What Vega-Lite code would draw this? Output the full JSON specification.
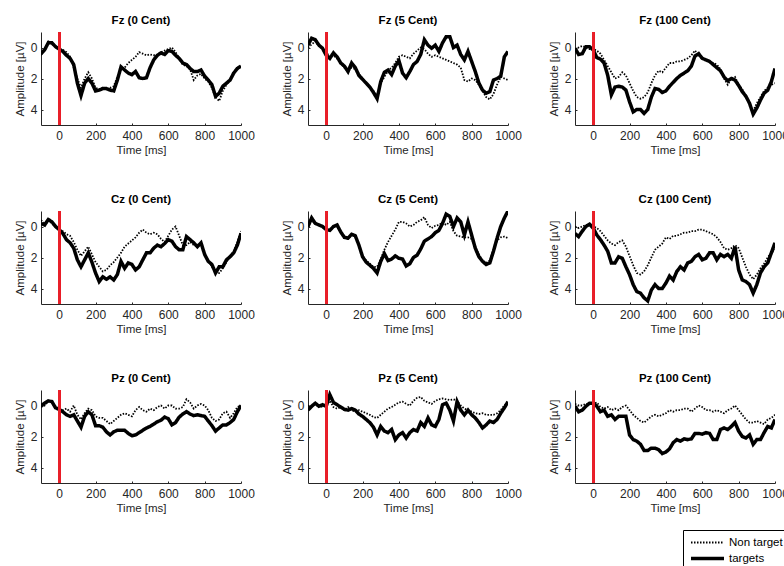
{
"$schema": "https://vega.github.io/schema/vega-lite/v6.json",
"padding": {"left": 14, "top": 14, "right": 0, "bottom": 0},
"bounds": "flush",
"columns": 3,
"spacing": {"row": 86, "column": 67},
"data": {"values": [
{"p":"Fz (0 Cent)","t":-100,"Non target":0.5,"targets":0.4},{"p":"Fz (0 Cent)","t":-80,"Non target":0.1,"targets":0.15},{"p":"Fz (0 Cent)","t":-60,"Non target":-0.4,"targets":-0.3},{"p":"Fz (0 Cent)","t":-40,"Non target":-0.3,"targets":-0.3},{"p":"Fz (0 Cent)","t":-20,"Non target":-0.1,"targets":-0.05},{"p":"Fz (0 Cent)","t":0,"Non target":0.1,"targets":0.1},{"p":"Fz (0 Cent)","t":20,"Non target":0.15,"targets":0.25},{"p":"Fz (0 Cent)","t":40,"Non target":0.3,"targets":0.5},{"p":"Fz (0 Cent)","t":60,"Non target":0.6,"targets":0.7},{"p":"Fz (0 Cent)","t":80,"Non target":1.3,"targets":1.1},{"p":"Fz (0 Cent)","t":100,"Non target":2.0,"targets":2.3},{"p":"Fz (0 Cent)","t":120,"Non target":2.6,"targets":3.1},{"p":"Fz (0 Cent)","t":140,"Non target":2.0,"targets":2.3},{"p":"Fz (0 Cent)","t":160,"Non target":1.6,"targets":2.0},{"p":"Fz (0 Cent)","t":180,"Non target":2.0,"targets":2.3},{"p":"Fz (0 Cent)","t":200,"Non target":2.6,"targets":2.8},{"p":"Fz (0 Cent)","t":220,"Non target":2.7,"targets":2.75},{"p":"Fz (0 Cent)","t":240,"Non target":2.6,"targets":2.65},{"p":"Fz (0 Cent)","t":260,"Non target":2.7,"targets":2.65},{"p":"Fz (0 Cent)","t":280,"Non target":2.6,"targets":2.75},{"p":"Fz (0 Cent)","t":300,"Non target":2.5,"targets":2.8},{"p":"Fz (0 Cent)","t":320,"Non target":1.9,"targets":2.1},{"p":"Fz (0 Cent)","t":340,"Non target":1.4,"targets":1.25},{"p":"Fz (0 Cent)","t":360,"Non target":1.3,"targets":1.45},{"p":"Fz (0 Cent)","t":380,"Non target":1.0,"targets":1.65},{"p":"Fz (0 Cent)","t":400,"Non target":0.8,"targets":1.75},{"p":"Fz (0 Cent)","t":420,"Non target":0.6,"targets":1.55},{"p":"Fz (0 Cent)","t":440,"Non target":0.3,"targets":1.95},{"p":"Fz (0 Cent)","t":460,"Non target":0.4,"targets":2.0},{"p":"Fz (0 Cent)","t":480,"Non target":0.5,"targets":1.95},{"p":"Fz (0 Cent)","t":500,"Non target":0.45,"targets":1.3},{"p":"Fz (0 Cent)","t":520,"Non target":0.5,"targets":0.8},{"p":"Fz (0 Cent)","t":540,"Non target":0.5,"targets":0.5},{"p":"Fz (0 Cent)","t":560,"Non target":0.3,"targets":0.35},{"p":"Fz (0 Cent)","t":580,"Non target":0.2,"targets":0.45},{"p":"Fz (0 Cent)","t":600,"Non target":0.1,"targets":0.2},{"p":"Fz (0 Cent)","t":620,"Non target":0.0,"targets":0.25},{"p":"Fz (0 Cent)","t":640,"Non target":0.3,"targets":0.5},{"p":"Fz (0 Cent)","t":660,"Non target":0.7,"targets":0.7},{"p":"Fz (0 Cent)","t":680,"Non target":1.1,"targets":1.0},{"p":"Fz (0 Cent)","t":700,"Non target":1.2,"targets":1.1},{"p":"Fz (0 Cent)","t":720,"Non target":1.4,"targets":1.35},{"p":"Fz (0 Cent)","t":740,"Non target":2.1,"targets":1.55},{"p":"Fz (0 Cent)","t":760,"Non target":1.8,"targets":1.55},{"p":"Fz (0 Cent)","t":780,"Non target":1.7,"targets":1.45},{"p":"Fz (0 Cent)","t":800,"Non target":2.0,"targets":1.85},{"p":"Fz (0 Cent)","t":820,"Non target":2.2,"targets":2.1},{"p":"Fz (0 Cent)","t":840,"Non target":2.6,"targets":2.4},{"p":"Fz (0 Cent)","t":860,"Non target":3.2,"targets":3.15},{"p":"Fz (0 Cent)","t":880,"Non target":3.45,"targets":2.95},{"p":"Fz (0 Cent)","t":900,"Non target":2.8,"targets":2.5},{"p":"Fz (0 Cent)","t":920,"Non target":2.4,"targets":2.3},{"p":"Fz (0 Cent)","t":940,"Non target":2.1,"targets":2.1},{"p":"Fz (0 Cent)","t":960,"Non target":1.6,"targets":1.65},{"p":"Fz (0 Cent)","t":980,"Non target":1.4,"targets":1.35},{"p":"Fz (0 Cent)","t":1000,"Non target":1.2,"targets":1.2},
{"p":"Fz (5 Cent)","t":-100,"Non target":0.0,"targets":-0.15},{"p":"Fz (5 Cent)","t":-80,"Non target":-0.2,"targets":-0.6},{"p":"Fz (5 Cent)","t":-60,"Non target":-0.4,"targets":-0.5},{"p":"Fz (5 Cent)","t":-40,"Non target":-0.1,"targets":-0.15},{"p":"Fz (5 Cent)","t":-20,"Non target":0.1,"targets":0.05},{"p":"Fz (5 Cent)","t":0,"Non target":0.3,"targets":0.5},{"p":"Fz (5 Cent)","t":20,"Non target":0.6,"targets":0.7},{"p":"Fz (5 Cent)","t":40,"Non target":0.5,"targets":0.35},{"p":"Fz (5 Cent)","t":60,"Non target":0.7,"targets":0.6},{"p":"Fz (5 Cent)","t":80,"Non target":1.0,"targets":1.0},{"p":"Fz (5 Cent)","t":100,"Non target":1.3,"targets":1.2},{"p":"Fz (5 Cent)","t":120,"Non target":1.5,"targets":1.55},{"p":"Fz (5 Cent)","t":140,"Non target":1.3,"targets":1.0},{"p":"Fz (5 Cent)","t":160,"Non target":1.4,"targets":1.3},{"p":"Fz (5 Cent)","t":180,"Non target":1.7,"targets":1.8},{"p":"Fz (5 Cent)","t":200,"Non target":2.0,"targets":2.05},{"p":"Fz (5 Cent)","t":220,"Non target":2.3,"targets":2.3},{"p":"Fz (5 Cent)","t":240,"Non target":2.6,"targets":2.55},{"p":"Fz (5 Cent)","t":260,"Non target":2.8,"targets":2.9},{"p":"Fz (5 Cent)","t":280,"Non target":3.1,"targets":3.3},{"p":"Fz (5 Cent)","t":300,"Non target":2.3,"targets":2.2},{"p":"Fz (5 Cent)","t":320,"Non target":1.9,"targets":1.6},{"p":"Fz (5 Cent)","t":340,"Non target":1.5,"targets":1.45},{"p":"Fz (5 Cent)","t":360,"Non target":1.3,"targets":1.75},{"p":"Fz (5 Cent)","t":380,"Non target":1.0,"targets":1.2},{"p":"Fz (5 Cent)","t":400,"Non target":0.6,"targets":0.85},{"p":"Fz (5 Cent)","t":420,"Non target":0.5,"targets":1.65},{"p":"Fz (5 Cent)","t":440,"Non target":0.6,"targets":1.95},{"p":"Fz (5 Cent)","t":460,"Non target":0.7,"targets":1.55},{"p":"Fz (5 Cent)","t":480,"Non target":0.4,"targets":1.1},{"p":"Fz (5 Cent)","t":500,"Non target":0.2,"targets":0.9},{"p":"Fz (5 Cent)","t":520,"Non target":0.0,"targets":0.45},{"p":"Fz (5 Cent)","t":540,"Non target":0.1,"targets":-0.5},{"p":"Fz (5 Cent)","t":560,"Non target":0.4,"targets":-0.15},{"p":"Fz (5 Cent)","t":580,"Non target":0.6,"targets":0.05},{"p":"Fz (5 Cent)","t":600,"Non target":0.5,"targets":-0.15},{"p":"Fz (5 Cent)","t":620,"Non target":0.6,"targets":0.25},{"p":"Fz (5 Cent)","t":640,"Non target":0.7,"targets":-0.3},{"p":"Fz (5 Cent)","t":660,"Non target":0.8,"targets":-0.7},{"p":"Fz (5 Cent)","t":680,"Non target":0.9,"targets":-0.7},{"p":"Fz (5 Cent)","t":700,"Non target":1.0,"targets":0.0},{"p":"Fz (5 Cent)","t":720,"Non target":1.1,"targets":-0.15},{"p":"Fz (5 Cent)","t":740,"Non target":1.3,"targets":0.45},{"p":"Fz (5 Cent)","t":760,"Non target":2.1,"targets":0.8},{"p":"Fz (5 Cent)","t":780,"Non target":2.2,"targets":0.25},{"p":"Fz (5 Cent)","t":800,"Non target":2.0,"targets":0.9},{"p":"Fz (5 Cent)","t":820,"Non target":2.1,"targets":1.55},{"p":"Fz (5 Cent)","t":840,"Non target":2.4,"targets":2.3},{"p":"Fz (5 Cent)","t":860,"Non target":2.8,"targets":2.75},{"p":"Fz (5 Cent)","t":880,"Non target":3.2,"targets":2.95},{"p":"Fz (5 Cent)","t":900,"Non target":3.35,"targets":2.85},{"p":"Fz (5 Cent)","t":920,"Non target":3.0,"targets":2.1},{"p":"Fz (5 Cent)","t":940,"Non target":2.4,"targets":2.0},{"p":"Fz (5 Cent)","t":960,"Non target":1.9,"targets":1.85},{"p":"Fz (5 Cent)","t":980,"Non target":2.0,"targets":0.6},{"p":"Fz (5 Cent)","t":1000,"Non target":2.1,"targets":0.25},
{"p":"Fz (100 Cent)","t":-100,"Non target":0.1,"targets":0.05},{"p":"Fz (100 Cent)","t":-80,"Non target":0.0,"targets":0.45},{"p":"Fz (100 Cent)","t":-60,"Non target":-0.1,"targets":0.4},{"p":"Fz (100 Cent)","t":-40,"Non target":0.0,"targets":-0.05},{"p":"Fz (100 Cent)","t":-20,"Non target":0.1,"targets":-0.05},{"p":"Fz (100 Cent)","t":0,"Non target":0.1,"targets":0.15},{"p":"Fz (100 Cent)","t":20,"Non target":0.2,"targets":0.65},{"p":"Fz (100 Cent)","t":40,"Non target":0.4,"targets":0.75},{"p":"Fz (100 Cent)","t":60,"Non target":0.8,"targets":1.0},{"p":"Fz (100 Cent)","t":80,"Non target":1.2,"targets":1.8},{"p":"Fz (100 Cent)","t":100,"Non target":1.6,"targets":3.05},{"p":"Fz (100 Cent)","t":120,"Non target":2.0,"targets":2.55},{"p":"Fz (100 Cent)","t":140,"Non target":1.9,"targets":2.5},{"p":"Fz (100 Cent)","t":160,"Non target":1.6,"targets":2.55},{"p":"Fz (100 Cent)","t":180,"Non target":1.8,"targets":2.75},{"p":"Fz (100 Cent)","t":200,"Non target":2.3,"targets":3.5},{"p":"Fz (100 Cent)","t":220,"Non target":2.8,"targets":4.15},{"p":"Fz (100 Cent)","t":240,"Non target":3.2,"targets":4.0},{"p":"Fz (100 Cent)","t":260,"Non target":3.3,"targets":4.0},{"p":"Fz (100 Cent)","t":280,"Non target":3.2,"targets":4.25},{"p":"Fz (100 Cent)","t":300,"Non target":2.9,"targets":4.0},{"p":"Fz (100 Cent)","t":320,"Non target":2.3,"targets":3.2},{"p":"Fz (100 Cent)","t":340,"Non target":1.8,"targets":2.65},{"p":"Fz (100 Cent)","t":360,"Non target":1.5,"targets":2.7},{"p":"Fz (100 Cent)","t":380,"Non target":1.6,"targets":2.9},{"p":"Fz (100 Cent)","t":400,"Non target":1.3,"targets":2.8},{"p":"Fz (100 Cent)","t":420,"Non target":1.0,"targets":2.5},{"p":"Fz (100 Cent)","t":440,"Non target":1.0,"targets":2.25},{"p":"Fz (100 Cent)","t":460,"Non target":0.9,"targets":2.0},{"p":"Fz (100 Cent)","t":480,"Non target":0.9,"targets":1.8},{"p":"Fz (100 Cent)","t":500,"Non target":0.8,"targets":1.65},{"p":"Fz (100 Cent)","t":520,"Non target":0.7,"targets":1.5},{"p":"Fz (100 Cent)","t":540,"Non target":0.5,"targets":1.2},{"p":"Fz (100 Cent)","t":560,"Non target":0.2,"targets":0.55},{"p":"Fz (100 Cent)","t":580,"Non target":0.5,"targets":0.4},{"p":"Fz (100 Cent)","t":600,"Non target":0.7,"targets":0.7},{"p":"Fz (100 Cent)","t":620,"Non target":0.8,"targets":0.8},{"p":"Fz (100 Cent)","t":640,"Non target":0.9,"targets":0.9},{"p":"Fz (100 Cent)","t":660,"Non target":1.0,"targets":1.1},{"p":"Fz (100 Cent)","t":680,"Non target":1.1,"targets":1.3},{"p":"Fz (100 Cent)","t":700,"Non target":1.4,"targets":1.5},{"p":"Fz (100 Cent)","t":720,"Non target":2.0,"targets":1.9},{"p":"Fz (100 Cent)","t":740,"Non target":2.4,"targets":2.15},{"p":"Fz (100 Cent)","t":760,"Non target":2.0,"targets":2.0},{"p":"Fz (100 Cent)","t":780,"Non target":1.9,"targets":2.1},{"p":"Fz (100 Cent)","t":800,"Non target":2.4,"targets":2.45},{"p":"Fz (100 Cent)","t":820,"Non target":2.7,"targets":2.85},{"p":"Fz (100 Cent)","t":840,"Non target":3.1,"targets":3.15},{"p":"Fz (100 Cent)","t":860,"Non target":3.6,"targets":3.6},{"p":"Fz (100 Cent)","t":880,"Non target":4.1,"targets":4.3},{"p":"Fz (100 Cent)","t":900,"Non target":3.6,"targets":3.9},{"p":"Fz (100 Cent)","t":920,"Non target":3.2,"targets":3.4},{"p":"Fz (100 Cent)","t":940,"Non target":2.8,"targets":2.95},{"p":"Fz (100 Cent)","t":960,"Non target":2.6,"targets":2.75},{"p":"Fz (100 Cent)","t":980,"Non target":2.4,"targets":2.2},{"p":"Fz (100 Cent)","t":1000,"Non target":2.3,"targets":1.35},
{"p":"Cz (0 Cent)","t":-100,"Non target":-0.4,"targets":-0.2},{"p":"Cz (0 Cent)","t":-80,"Non target":-0.2,"targets":-0.1},{"p":"Cz (0 Cent)","t":-60,"Non target":-0.4,"targets":-0.45},{"p":"Cz (0 Cent)","t":-40,"Non target":-0.2,"targets":-0.3},{"p":"Cz (0 Cent)","t":-20,"Non target":0.0,"targets":0.0},{"p":"Cz (0 Cent)","t":0,"Non target":0.2,"targets":0.2},{"p":"Cz (0 Cent)","t":20,"Non target":0.3,"targets":0.45},{"p":"Cz (0 Cent)","t":40,"Non target":0.5,"targets":0.85},{"p":"Cz (0 Cent)","t":60,"Non target":0.6,"targets":1.05},{"p":"Cz (0 Cent)","t":80,"Non target":1.0,"targets":1.4},{"p":"Cz (0 Cent)","t":100,"Non target":1.5,"targets":2.15},{"p":"Cz (0 Cent)","t":120,"Non target":1.9,"targets":2.6},{"p":"Cz (0 Cent)","t":140,"Non target":1.6,"targets":2.15},{"p":"Cz (0 Cent)","t":160,"Non target":1.3,"targets":1.7},{"p":"Cz (0 Cent)","t":180,"Non target":1.8,"targets":2.3},{"p":"Cz (0 Cent)","t":200,"Non target":2.3,"targets":3.0},{"p":"Cz (0 Cent)","t":220,"Non target":2.6,"targets":3.55},{"p":"Cz (0 Cent)","t":240,"Non target":2.9,"targets":3.25},{"p":"Cz (0 Cent)","t":260,"Non target":2.8,"targets":3.4},{"p":"Cz (0 Cent)","t":280,"Non target":2.5,"targets":3.25},{"p":"Cz (0 Cent)","t":300,"Non target":2.3,"targets":3.45},{"p":"Cz (0 Cent)","t":320,"Non target":2.0,"targets":3.1},{"p":"Cz (0 Cent)","t":340,"Non target":1.7,"targets":2.25},{"p":"Cz (0 Cent)","t":360,"Non target":1.3,"targets":2.7},{"p":"Cz (0 Cent)","t":380,"Non target":1.1,"targets":2.35},{"p":"Cz (0 Cent)","t":400,"Non target":0.9,"targets":2.45},{"p":"Cz (0 Cent)","t":420,"Non target":0.7,"targets":2.8},{"p":"Cz (0 Cent)","t":440,"Non target":0.4,"targets":2.6},{"p":"Cz (0 Cent)","t":460,"Non target":0.2,"targets":2.15},{"p":"Cz (0 Cent)","t":480,"Non target":0.4,"targets":1.7},{"p":"Cz (0 Cent)","t":500,"Non target":0.5,"targets":1.7},{"p":"Cz (0 Cent)","t":520,"Non target":0.4,"targets":1.4},{"p":"Cz (0 Cent)","t":540,"Non target":0.5,"targets":1.2},{"p":"Cz (0 Cent)","t":560,"Non target":0.8,"targets":1.3},{"p":"Cz (0 Cent)","t":580,"Non target":1.0,"targets":1.1},{"p":"Cz (0 Cent)","t":600,"Non target":0.6,"targets":0.85},{"p":"Cz (0 Cent)","t":620,"Non target":0.2,"targets":0.95},{"p":"Cz (0 Cent)","t":640,"Non target":0.0,"targets":1.3},{"p":"Cz (0 Cent)","t":660,"Non target":0.6,"targets":1.5},{"p":"Cz (0 Cent)","t":680,"Non target":1.2,"targets":1.5},{"p":"Cz (0 Cent)","t":700,"Non target":1.2,"targets":0.65},{"p":"Cz (0 Cent)","t":720,"Non target":1.0,"targets":0.85},{"p":"Cz (0 Cent)","t":740,"Non target":1.2,"targets":1.05},{"p":"Cz (0 Cent)","t":760,"Non target":1.3,"targets":1.3},{"p":"Cz (0 Cent)","t":780,"Non target":1.1,"targets":1.05},{"p":"Cz (0 Cent)","t":800,"Non target":1.8,"targets":1.8},{"p":"Cz (0 Cent)","t":820,"Non target":2.2,"targets":2.25},{"p":"Cz (0 Cent)","t":840,"Non target":2.6,"targets":2.45},{"p":"Cz (0 Cent)","t":860,"Non target":2.9,"targets":3.0},{"p":"Cz (0 Cent)","t":880,"Non target":3.0,"targets":2.6},{"p":"Cz (0 Cent)","t":900,"Non target":2.7,"targets":2.6},{"p":"Cz (0 Cent)","t":920,"Non target":2.3,"targets":2.15},{"p":"Cz (0 Cent)","t":940,"Non target":1.9,"targets":1.95},{"p":"Cz (0 Cent)","t":960,"Non target":1.6,"targets":1.7},{"p":"Cz (0 Cent)","t":980,"Non target":1.0,"targets":1.2},{"p":"Cz (0 Cent)","t":1000,"Non target":0.3,"targets":0.45},
{"p":"Cz (5 Cent)","t":-100,"Non target":0.0,"targets":0.0},{"p":"Cz (5 Cent)","t":-80,"Non target":-0.4,"targets":-0.55},{"p":"Cz (5 Cent)","t":-60,"Non target":-0.2,"targets":-0.2},{"p":"Cz (5 Cent)","t":-40,"Non target":-0.1,"targets":-0.1},{"p":"Cz (5 Cent)","t":-20,"Non target":0.0,"targets":0.0},{"p":"Cz (5 Cent)","t":0,"Non target":0.2,"targets":0.2},{"p":"Cz (5 Cent)","t":20,"Non target":0.25,"targets":0.25},{"p":"Cz (5 Cent)","t":40,"Non target":0.05,"targets":0.0},{"p":"Cz (5 Cent)","t":60,"Non target":-0.05,"targets":-0.1},{"p":"Cz (5 Cent)","t":80,"Non target":0.4,"targets":0.35},{"p":"Cz (5 Cent)","t":100,"Non target":0.75,"targets":0.7},{"p":"Cz (5 Cent)","t":120,"Non target":0.8,"targets":0.75},{"p":"Cz (5 Cent)","t":140,"Non target":0.55,"targets":0.5},{"p":"Cz (5 Cent)","t":160,"Non target":0.6,"targets":0.6},{"p":"Cz (5 Cent)","t":180,"Non target":1.2,"targets":1.2},{"p":"Cz (5 Cent)","t":200,"Non target":1.9,"targets":1.95},{"p":"Cz (5 Cent)","t":220,"Non target":2.2,"targets":2.3},{"p":"Cz (5 Cent)","t":240,"Non target":2.4,"targets":2.5},{"p":"Cz (5 Cent)","t":260,"Non target":2.6,"targets":2.7},{"p":"Cz (5 Cent)","t":280,"Non target":2.6,"targets":3.0},{"p":"Cz (5 Cent)","t":300,"Non target":2.1,"targets":2.25},{"p":"Cz (5 Cent)","t":320,"Non target":1.5,"targets":1.75},{"p":"Cz (5 Cent)","t":340,"Non target":1.0,"targets":2.2},{"p":"Cz (5 Cent)","t":360,"Non target":0.6,"targets":2.1},{"p":"Cz (5 Cent)","t":380,"Non target":0.2,"targets":1.9},{"p":"Cz (5 Cent)","t":400,"Non target":-0.3,"targets":2.05},{"p":"Cz (5 Cent)","t":420,"Non target":-0.3,"targets":2.1},{"p":"Cz (5 Cent)","t":440,"Non target":-0.2,"targets":2.55},{"p":"Cz (5 Cent)","t":460,"Non target":0.0,"targets":2.4},{"p":"Cz (5 Cent)","t":480,"Non target":-0.1,"targets":2.0},{"p":"Cz (5 Cent)","t":500,"Non target":-0.3,"targets":1.85},{"p":"Cz (5 Cent)","t":520,"Non target":-0.4,"targets":1.45},{"p":"Cz (5 Cent)","t":540,"Non target":-0.6,"targets":0.95},{"p":"Cz (5 Cent)","t":560,"Non target":-0.1,"targets":0.8},{"p":"Cz (5 Cent)","t":580,"Non target":0.1,"targets":0.65},{"p":"Cz (5 Cent)","t":600,"Non target":-0.05,"targets":0.4},{"p":"Cz (5 Cent)","t":620,"Non target":-0.1,"targets":0.25},{"p":"Cz (5 Cent)","t":640,"Non target":-0.25,"targets":-0.2},{"p":"Cz (5 Cent)","t":660,"Non target":-0.1,"targets":-0.8},{"p":"Cz (5 Cent)","t":680,"Non target":-0.3,"targets":-0.65},{"p":"Cz (5 Cent)","t":700,"Non target":0.3,"targets":0.0},{"p":"Cz (5 Cent)","t":720,"Non target":0.6,"targets":-0.55},{"p":"Cz (5 Cent)","t":740,"Non target":0.65,"targets":-0.3},{"p":"Cz (5 Cent)","t":760,"Non target":0.7,"targets":0.55},{"p":"Cz (5 Cent)","t":780,"Non target":0.7,"targets":-0.3},{"p":"Cz (5 Cent)","t":800,"Non target":0.8,"targets":0.55},{"p":"Cz (5 Cent)","t":820,"Non target":1.3,"targets":1.4},{"p":"Cz (5 Cent)","t":840,"Non target":1.8,"targets":1.95},{"p":"Cz (5 Cent)","t":860,"Non target":2.2,"targets":2.25},{"p":"Cz (5 Cent)","t":880,"Non target":2.35,"targets":2.45},{"p":"Cz (5 Cent)","t":900,"Non target":2.2,"targets":2.35},{"p":"Cz (5 Cent)","t":920,"Non target":1.5,"targets":1.6},{"p":"Cz (5 Cent)","t":940,"Non target":0.9,"targets":0.75},{"p":"Cz (5 Cent)","t":960,"Non target":0.7,"targets":0.0},{"p":"Cz (5 Cent)","t":980,"Non target":0.65,"targets":-0.55},{"p":"Cz (5 Cent)","t":1000,"Non target":0.75,"targets":-1.0},
{"p":"Cz (100 Cent)","t":-100,"Non target":0.0,"targets":0.45},{"p":"Cz (100 Cent)","t":-80,"Non target":0.1,"targets":0.65},{"p":"Cz (100 Cent)","t":-60,"Non target":0.0,"targets":0.3},{"p":"Cz (100 Cent)","t":-40,"Non target":-0.1,"targets":0.0},{"p":"Cz (100 Cent)","t":-20,"Non target":-0.1,"targets":-0.15},{"p":"Cz (100 Cent)","t":0,"Non target":0.0,"targets":0.1},{"p":"Cz (100 Cent)","t":20,"Non target":0.1,"targets":0.55},{"p":"Cz (100 Cent)","t":40,"Non target":0.3,"targets":0.85},{"p":"Cz (100 Cent)","t":60,"Non target":0.6,"targets":1.2},{"p":"Cz (100 Cent)","t":80,"Non target":0.9,"targets":1.6},{"p":"Cz (100 Cent)","t":100,"Non target":1.1,"targets":2.35},{"p":"Cz (100 Cent)","t":120,"Non target":1.2,"targets":2.35},{"p":"Cz (100 Cent)","t":140,"Non target":1.0,"targets":1.95},{"p":"Cz (100 Cent)","t":160,"Non target":0.9,"targets":2.05},{"p":"Cz (100 Cent)","t":180,"Non target":1.3,"targets":2.6},{"p":"Cz (100 Cent)","t":200,"Non target":1.9,"targets":3.1},{"p":"Cz (100 Cent)","t":220,"Non target":2.5,"targets":3.75},{"p":"Cz (100 Cent)","t":240,"Non target":3.0,"targets":4.2},{"p":"Cz (100 Cent)","t":260,"Non target":3.1,"targets":4.3},{"p":"Cz (100 Cent)","t":280,"Non target":2.9,"targets":4.6},{"p":"Cz (100 Cent)","t":300,"Non target":2.5,"targets":4.8},{"p":"Cz (100 Cent)","t":320,"Non target":2.0,"targets":4.1},{"p":"Cz (100 Cent)","t":340,"Non target":1.5,"targets":3.75},{"p":"Cz (100 Cent)","t":360,"Non target":1.3,"targets":4.0},{"p":"Cz (100 Cent)","t":380,"Non target":1.1,"targets":4.0},{"p":"Cz (100 Cent)","t":400,"Non target":0.7,"targets":3.65},{"p":"Cz (100 Cent)","t":420,"Non target":0.8,"targets":3.2},{"p":"Cz (100 Cent)","t":440,"Non target":0.6,"targets":3.45},{"p":"Cz (100 Cent)","t":460,"Non target":0.6,"targets":2.9},{"p":"Cz (100 Cent)","t":480,"Non target":0.5,"targets":2.6},{"p":"Cz (100 Cent)","t":500,"Non target":0.4,"targets":2.8},{"p":"Cz (100 Cent)","t":520,"Non target":0.4,"targets":2.35},{"p":"Cz (100 Cent)","t":540,"Non target":0.3,"targets":2.25},{"p":"Cz (100 Cent)","t":560,"Non target":0.3,"targets":1.95},{"p":"Cz (100 Cent)","t":580,"Non target":0.2,"targets":1.8},{"p":"Cz (100 Cent)","t":600,"Non target":0.2,"targets":2.15},{"p":"Cz (100 Cent)","t":620,"Non target":0.3,"targets":2.05},{"p":"Cz (100 Cent)","t":640,"Non target":0.4,"targets":1.7},{"p":"Cz (100 Cent)","t":660,"Non target":0.5,"targets":1.7},{"p":"Cz (100 Cent)","t":680,"Non target":0.7,"targets":2.15},{"p":"Cz (100 Cent)","t":700,"Non target":1.0,"targets":1.8},{"p":"Cz (100 Cent)","t":720,"Non target":1.4,"targets":1.95},{"p":"Cz (100 Cent)","t":740,"Non target":1.5,"targets":1.8},{"p":"Cz (100 Cent)","t":760,"Non target":1.4,"targets":2.05},{"p":"Cz (100 Cent)","t":780,"Non target":1.2,"targets":1.3},{"p":"Cz (100 Cent)","t":800,"Non target":1.4,"targets":2.8},{"p":"Cz (100 Cent)","t":820,"Non target":2.0,"targets":3.45},{"p":"Cz (100 Cent)","t":840,"Non target":2.6,"targets":3.55},{"p":"Cz (100 Cent)","t":860,"Non target":3.1,"targets":3.75},{"p":"Cz (100 Cent)","t":880,"Non target":3.4,"targets":4.3},{"p":"Cz (100 Cent)","t":900,"Non target":3.1,"targets":3.75},{"p":"Cz (100 Cent)","t":920,"Non target":2.7,"targets":3.0},{"p":"Cz (100 Cent)","t":940,"Non target":2.4,"targets":2.6},{"p":"Cz (100 Cent)","t":960,"Non target":2.0,"targets":2.35},{"p":"Cz (100 Cent)","t":980,"Non target":1.7,"targets":1.7},{"p":"Cz (100 Cent)","t":1000,"Non target":1.5,"targets":1.05},
{"p":"Pz (0 Cent)","t":-100,"Non target":0.1,"targets":0.0},{"p":"Pz (0 Cent)","t":-80,"Non target":0.0,"targets":-0.15},{"p":"Pz (0 Cent)","t":-60,"Non target":-0.3,"targets":-0.3},{"p":"Pz (0 Cent)","t":-40,"Non target":-0.2,"targets":-0.25},{"p":"Pz (0 Cent)","t":-20,"Non target":0.1,"targets":0.15},{"p":"Pz (0 Cent)","t":0,"Non target":0.2,"targets":0.25},{"p":"Pz (0 Cent)","t":20,"Non target":0.3,"targets":0.4},{"p":"Pz (0 Cent)","t":40,"Non target":0.2,"targets":0.6},{"p":"Pz (0 Cent)","t":60,"Non target":0.4,"targets":0.7},{"p":"Pz (0 Cent)","t":80,"Non target":0.0,"targets":0.6},{"p":"Pz (0 Cent)","t":100,"Non target":0.6,"targets":1.0},{"p":"Pz (0 Cent)","t":120,"Non target":0.9,"targets":1.4},{"p":"Pz (0 Cent)","t":140,"Non target":0.5,"targets":0.7},{"p":"Pz (0 Cent)","t":160,"Non target":0.2,"targets":0.4},{"p":"Pz (0 Cent)","t":180,"Non target":0.3,"targets":0.6},{"p":"Pz (0 Cent)","t":200,"Non target":0.7,"targets":1.3},{"p":"Pz (0 Cent)","t":220,"Non target":0.8,"targets":1.3},{"p":"Pz (0 Cent)","t":240,"Non target":0.8,"targets":1.4},{"p":"Pz (0 Cent)","t":260,"Non target":1.0,"targets":1.7},{"p":"Pz (0 Cent)","t":280,"Non target":1.2,"targets":1.9},{"p":"Pz (0 Cent)","t":300,"Non target":1.0,"targets":1.7},{"p":"Pz (0 Cent)","t":320,"Non target":0.8,"targets":1.6},{"p":"Pz (0 Cent)","t":340,"Non target":0.6,"targets":1.6},{"p":"Pz (0 Cent)","t":360,"Non target":0.5,"targets":1.6},{"p":"Pz (0 Cent)","t":380,"Non target":0.6,"targets":1.8},{"p":"Pz (0 Cent)","t":400,"Non target":0.7,"targets":1.95},{"p":"Pz (0 Cent)","t":420,"Non target":0.3,"targets":1.9},{"p":"Pz (0 Cent)","t":440,"Non target":0.1,"targets":1.75},{"p":"Pz (0 Cent)","t":460,"Non target":0.3,"targets":1.6},{"p":"Pz (0 Cent)","t":480,"Non target":0.4,"targets":1.45},{"p":"Pz (0 Cent)","t":500,"Non target":0.2,"targets":1.35},{"p":"Pz (0 Cent)","t":520,"Non target":0.3,"targets":1.2},{"p":"Pz (0 Cent)","t":540,"Non target":0.1,"targets":1.05},{"p":"Pz (0 Cent)","t":560,"Non target":0.0,"targets":0.95},{"p":"Pz (0 Cent)","t":580,"Non target":0.2,"targets":0.75},{"p":"Pz (0 Cent)","t":600,"Non target":0.0,"targets":0.85},{"p":"Pz (0 Cent)","t":620,"Non target":0.0,"targets":1.25},{"p":"Pz (0 Cent)","t":640,"Non target":0.2,"targets":1.1},{"p":"Pz (0 Cent)","t":660,"Non target":0.2,"targets":0.75},{"p":"Pz (0 Cent)","t":680,"Non target":0.1,"targets":0.55},{"p":"Pz (0 Cent)","t":700,"Non target":-0.4,"targets":0.4},{"p":"Pz (0 Cent)","t":720,"Non target":-0.2,"targets":0.55},{"p":"Pz (0 Cent)","t":740,"Non target":0.2,"targets":0.65},{"p":"Pz (0 Cent)","t":760,"Non target":0.0,"targets":0.6},{"p":"Pz (0 Cent)","t":780,"Non target":-0.1,"targets":0.65},{"p":"Pz (0 Cent)","t":800,"Non target":0.0,"targets":0.7},{"p":"Pz (0 Cent)","t":820,"Non target":0.3,"targets":1.0},{"p":"Pz (0 Cent)","t":840,"Non target":0.8,"targets":1.3},{"p":"Pz (0 Cent)","t":860,"Non target":1.0,"targets":1.65},{"p":"Pz (0 Cent)","t":880,"Non target":0.9,"targets":1.45},{"p":"Pz (0 Cent)","t":900,"Non target":0.5,"targets":1.25},{"p":"Pz (0 Cent)","t":920,"Non target":0.4,"targets":1.25},{"p":"Pz (0 Cent)","t":940,"Non target":0.8,"targets":1.1},{"p":"Pz (0 Cent)","t":960,"Non target":0.5,"targets":0.9},{"p":"Pz (0 Cent)","t":980,"Non target":0.1,"targets":0.4},{"p":"Pz (0 Cent)","t":1000,"Non target":0.0,"targets":0.0},
{"p":"Pz (5 Cent)","t":-100,"Non target":0.0,"targets":0.3},{"p":"Pz (5 Cent)","t":-80,"Non target":0.1,"targets":0.05},{"p":"Pz (5 Cent)","t":-60,"Non target":-0.1,"targets":-0.15},{"p":"Pz (5 Cent)","t":-40,"Non target":0.0,"targets":0.05},{"p":"Pz (5 Cent)","t":-20,"Non target":0.1,"targets":-0.05},{"p":"Pz (5 Cent)","t":0,"Non target":0.0,"targets":0.05},{"p":"Pz (5 Cent)","t":20,"Non target":-0.3,"targets":-0.7},{"p":"Pz (5 Cent)","t":40,"Non target":0.1,"targets":-0.2},{"p":"Pz (5 Cent)","t":60,"Non target":0.2,"targets":-0.05},{"p":"Pz (5 Cent)","t":80,"Non target":0.1,"targets":0.1},{"p":"Pz (5 Cent)","t":100,"Non target":0.3,"targets":0.25},{"p":"Pz (5 Cent)","t":120,"Non target":0.1,"targets":0.3},{"p":"Pz (5 Cent)","t":140,"Non target":0.3,"targets":0.2},{"p":"Pz (5 Cent)","t":160,"Non target":0.4,"targets":0.3},{"p":"Pz (5 Cent)","t":180,"Non target":0.3,"targets":0.55},{"p":"Pz (5 Cent)","t":200,"Non target":0.4,"targets":0.7},{"p":"Pz (5 Cent)","t":220,"Non target":0.5,"targets":0.9},{"p":"Pz (5 Cent)","t":240,"Non target":0.6,"targets":1.1},{"p":"Pz (5 Cent)","t":260,"Non target":0.75,"targets":1.4},{"p":"Pz (5 Cent)","t":280,"Non target":0.8,"targets":1.9},{"p":"Pz (5 Cent)","t":300,"Non target":0.6,"targets":1.35},{"p":"Pz (5 Cent)","t":320,"Non target":0.4,"targets":1.65},{"p":"Pz (5 Cent)","t":340,"Non target":0.2,"targets":1.75},{"p":"Pz (5 Cent)","t":360,"Non target":0.1,"targets":1.55},{"p":"Pz (5 Cent)","t":380,"Non target":-0.05,"targets":2.2},{"p":"Pz (5 Cent)","t":400,"Non target":-0.2,"targets":1.9},{"p":"Pz (5 Cent)","t":420,"Non target":-0.25,"targets":1.75},{"p":"Pz (5 Cent)","t":440,"Non target":-0.1,"targets":2.1},{"p":"Pz (5 Cent)","t":460,"Non target":0.0,"targets":1.75},{"p":"Pz (5 Cent)","t":480,"Non target":-0.3,"targets":1.55},{"p":"Pz (5 Cent)","t":500,"Non target":-0.5,"targets":1.65},{"p":"Pz (5 Cent)","t":520,"Non target":-0.55,"targets":1.1},{"p":"Pz (5 Cent)","t":540,"Non target":-0.3,"targets":1.35},{"p":"Pz (5 Cent)","t":560,"Non target":-0.2,"targets":0.8},{"p":"Pz (5 Cent)","t":580,"Non target":-0.1,"targets":1.25},{"p":"Pz (5 Cent)","t":600,"Non target":-0.3,"targets":1.35},{"p":"Pz (5 Cent)","t":620,"Non target":-0.4,"targets":0.9},{"p":"Pz (5 Cent)","t":640,"Non target":-0.45,"targets":-0.05},{"p":"Pz (5 Cent)","t":660,"Non target":-0.4,"targets":-0.15},{"p":"Pz (5 Cent)","t":680,"Non target":-0.35,"targets":0.3},{"p":"Pz (5 Cent)","t":700,"Non target":-0.4,"targets":1.0},{"p":"Pz (5 Cent)","t":720,"Non target":-0.3,"targets":-0.25},{"p":"Pz (5 Cent)","t":740,"Non target":0.0,"targets":0.3},{"p":"Pz (5 Cent)","t":760,"Non target":0.2,"targets":0.6},{"p":"Pz (5 Cent)","t":780,"Non target":0.3,"targets":0.3},{"p":"Pz (5 Cent)","t":800,"Non target":0.4,"targets":0.6},{"p":"Pz (5 Cent)","t":820,"Non target":0.5,"targets":0.8},{"p":"Pz (5 Cent)","t":840,"Non target":0.55,"targets":1.1},{"p":"Pz (5 Cent)","t":860,"Non target":0.5,"targets":1.45},{"p":"Pz (5 Cent)","t":880,"Non target":0.6,"targets":1.25},{"p":"Pz (5 Cent)","t":900,"Non target":0.6,"targets":1.0},{"p":"Pz (5 Cent)","t":920,"Non target":0.6,"targets":1.1},{"p":"Pz (5 Cent)","t":940,"Non target":0.5,"targets":0.9},{"p":"Pz (5 Cent)","t":960,"Non target":0.3,"targets":0.5},{"p":"Pz (5 Cent)","t":980,"Non target":0.0,"targets":0.15},{"p":"Pz (5 Cent)","t":1000,"Non target":-0.2,"targets":-0.25},
{"p":"Pz (100 Cent)","t":-100,"Non target":-0.1,"targets":0.05},{"p":"Pz (100 Cent)","t":-80,"Non target":0.0,"targets":0.4},{"p":"Pz (100 Cent)","t":-60,"Non target":0.0,"targets":0.3},{"p":"Pz (100 Cent)","t":-40,"Non target":-0.1,"targets":0.05},{"p":"Pz (100 Cent)","t":-20,"Non target":-0.1,"targets":-0.15},{"p":"Pz (100 Cent)","t":0,"Non target":-0.1,"targets":-0.15},{"p":"Pz (100 Cent)","t":20,"Non target":-0.2,"targets":0.05},{"p":"Pz (100 Cent)","t":40,"Non target":0.1,"targets":0.4},{"p":"Pz (100 Cent)","t":60,"Non target":0.2,"targets":0.3},{"p":"Pz (100 Cent)","t":80,"Non target":0.1,"targets":0.7},{"p":"Pz (100 Cent)","t":100,"Non target":0.3,"targets":0.6},{"p":"Pz (100 Cent)","t":120,"Non target":0.2,"targets":0.9},{"p":"Pz (100 Cent)","t":140,"Non target":0.3,"targets":0.7},{"p":"Pz (100 Cent)","t":160,"Non target":0.1,"targets":0.7},{"p":"Pz (100 Cent)","t":180,"Non target":0.0,"targets":0.7},{"p":"Pz (100 Cent)","t":200,"Non target":0.3,"targets":1.9},{"p":"Pz (100 Cent)","t":220,"Non target":0.6,"targets":2.2},{"p":"Pz (100 Cent)","t":240,"Non target":0.8,"targets":2.3},{"p":"Pz (100 Cent)","t":260,"Non target":1.0,"targets":2.5},{"p":"Pz (100 Cent)","t":280,"Non target":1.1,"targets":2.9},{"p":"Pz (100 Cent)","t":300,"Non target":0.9,"targets":2.9},{"p":"Pz (100 Cent)","t":320,"Non target":0.7,"targets":2.75},{"p":"Pz (100 Cent)","t":340,"Non target":0.6,"targets":2.75},{"p":"Pz (100 Cent)","t":360,"Non target":0.7,"targets":2.85},{"p":"Pz (100 Cent)","t":380,"Non target":0.6,"targets":3.1},{"p":"Pz (100 Cent)","t":400,"Non target":0.5,"targets":3.0},{"p":"Pz (100 Cent)","t":420,"Non target":0.3,"targets":2.8},{"p":"Pz (100 Cent)","t":440,"Non target":0.4,"targets":2.4},{"p":"Pz (100 Cent)","t":460,"Non target":0.3,"targets":2.2},{"p":"Pz (100 Cent)","t":480,"Non target":0.3,"targets":2.3},{"p":"Pz (100 Cent)","t":500,"Non target":0.2,"targets":2.15},{"p":"Pz (100 Cent)","t":520,"Non target":0.2,"targets":2.2},{"p":"Pz (100 Cent)","t":540,"Non target":0.4,"targets":2.15},{"p":"Pz (100 Cent)","t":560,"Non target":0.2,"targets":1.8},{"p":"Pz (100 Cent)","t":580,"Non target":0.0,"targets":1.8},{"p":"Pz (100 Cent)","t":600,"Non target":0.1,"targets":1.85},{"p":"Pz (100 Cent)","t":620,"Non target":0.3,"targets":1.75},{"p":"Pz (100 Cent)","t":640,"Non target":0.3,"targets":1.8},{"p":"Pz (100 Cent)","t":660,"Non target":0.4,"targets":2.2},{"p":"Pz (100 Cent)","t":680,"Non target":0.3,"targets":2.2},{"p":"Pz (100 Cent)","t":700,"Non target":0.4,"targets":1.55},{"p":"Pz (100 Cent)","t":720,"Non target":0.5,"targets":1.45},{"p":"Pz (100 Cent)","t":740,"Non target":0.3,"targets":1.55},{"p":"Pz (100 Cent)","t":760,"Non target":0.2,"targets":1.35},{"p":"Pz (100 Cent)","t":780,"Non target":0.0,"targets":1.1},{"p":"Pz (100 Cent)","t":800,"Non target":0.3,"targets":1.65},{"p":"Pz (100 Cent)","t":820,"Non target":0.6,"targets":2.0},{"p":"Pz (100 Cent)","t":840,"Non target":0.9,"targets":2.1},{"p":"Pz (100 Cent)","t":860,"Non target":1.1,"targets":1.9},{"p":"Pz (100 Cent)","t":880,"Non target":1.1,"targets":2.5},{"p":"Pz (100 Cent)","t":900,"Non target":1.0,"targets":2.2},{"p":"Pz (100 Cent)","t":920,"Non target":1.1,"targets":2.2},{"p":"Pz (100 Cent)","t":940,"Non target":1.2,"targets":1.75},{"p":"Pz (100 Cent)","t":960,"Non target":0.9,"targets":1.35},{"p":"Pz (100 Cent)","t":980,"Non target":0.8,"targets":1.45},{"p":"Pz (100 Cent)","t":1000,"Non target":0.6,"targets":0.9}
]},
"transform": [{"fold": ["Non target", "targets"], "as": ["c", "v"]}],
"concat": [
  {"title":"Fz (0 Cent)","width":200,"height":93,"transform":[{"filter":{"field":"p","equal":"Fz (0 Cent)"}}],"layer":[
   {"mark":{"type":"line","color":"black","clip":true},"encoding":{"x":{"field":"t","type":"quantitative","scale":{"domain":[-100,1000],"nice":false},"axis":{"values":[0,200,400,600,800,1000],"tickCount":12,"format":"d","title":"Time [ms]","labelOverlap":false}},"y":{"field":"v","type":"quantitative","scale":{"domain":[-1,5],"reverse":true,"nice":false,"zero":false},"axis":{"values":[0,2,4],"format":"d","title":"Amplitude [µV]"}},"strokeDash":{"field":"c","type":"nominal","scale":{"domain":["Non target","targets"],"range":[[1.5,1.5],[1,0]]},"legend":{"title":null,"symbolType":"M-1,0H5"}},"strokeWidth":{"field":"c","type":"nominal","scale":{"domain":["Non target","targets"],"range":[1.8,3.5]},"legend":{"title":null,"symbolType":"M-1,0H5"}}}},
   {"mark":{"type":"rule","color":"#e8202a","strokeWidth":2},"encoding":{"x":{"datum":0}}}]},
  {"title":"Fz (5 Cent)","width":200,"height":93,"transform":[{"filter":{"field":"p","equal":"Fz (5 Cent)"}}],"layer":[
   {"mark":{"type":"line","color":"black","clip":true},"encoding":{"x":{"field":"t","type":"quantitative","scale":{"domain":[-100,1000],"nice":false},"axis":{"values":[0,200,400,600,800,1000],"tickCount":12,"format":"d","title":"Time [ms]","labelOverlap":false}},"y":{"field":"v","type":"quantitative","scale":{"domain":[-1,5],"reverse":true,"nice":false,"zero":false},"axis":{"values":[0,2,4],"format":"d","title":"Amplitude [µV]"}},"strokeDash":{"field":"c","type":"nominal","scale":{"domain":["Non target","targets"],"range":[[1.5,1.5],[1,0]]},"legend":{"title":null,"symbolType":"M-1,0H5"}},"strokeWidth":{"field":"c","type":"nominal","scale":{"domain":["Non target","targets"],"range":[1.8,3.5]},"legend":{"title":null,"symbolType":"M-1,0H5"}}}},
   {"mark":{"type":"rule","color":"#e8202a","strokeWidth":2},"encoding":{"x":{"datum":0}}}]},
  {"title":"Fz (100 Cent)","width":200,"height":93,"transform":[{"filter":{"field":"p","equal":"Fz (100 Cent)"}}],"layer":[
   {"mark":{"type":"line","color":"black","clip":true},"encoding":{"x":{"field":"t","type":"quantitative","scale":{"domain":[-100,1000],"nice":false},"axis":{"values":[0,200,400,600,800,1000],"tickCount":12,"format":"d","title":"Time [ms]","labelOverlap":false}},"y":{"field":"v","type":"quantitative","scale":{"domain":[-1,5],"reverse":true,"nice":false,"zero":false},"axis":{"values":[0,2,4],"format":"d","title":"Amplitude [µV]"}},"strokeDash":{"field":"c","type":"nominal","scale":{"domain":["Non target","targets"],"range":[[1.5,1.5],[1,0]]},"legend":{"title":null,"symbolType":"M-1,0H5"}},"strokeWidth":{"field":"c","type":"nominal","scale":{"domain":["Non target","targets"],"range":[1.8,3.5]},"legend":{"title":null,"symbolType":"M-1,0H5"}}}},
   {"mark":{"type":"rule","color":"#e8202a","strokeWidth":2},"encoding":{"x":{"datum":0}}}]},
  {"title":"Cz (0 Cent)","width":200,"height":93,"transform":[{"filter":{"field":"p","equal":"Cz (0 Cent)"}}],"layer":[
   {"mark":{"type":"line","color":"black","clip":true},"encoding":{"x":{"field":"t","type":"quantitative","scale":{"domain":[-100,1000],"nice":false},"axis":{"values":[0,200,400,600,800,1000],"tickCount":12,"format":"d","title":"Time [ms]","labelOverlap":false}},"y":{"field":"v","type":"quantitative","scale":{"domain":[-1,5],"reverse":true,"nice":false,"zero":false},"axis":{"values":[0,2,4],"format":"d","title":"Amplitude [µV]"}},"strokeDash":{"field":"c","type":"nominal","scale":{"domain":["Non target","targets"],"range":[[1.5,1.5],[1,0]]},"legend":{"title":null,"symbolType":"M-1,0H5"}},"strokeWidth":{"field":"c","type":"nominal","scale":{"domain":["Non target","targets"],"range":[1.8,3.5]},"legend":{"title":null,"symbolType":"M-1,0H5"}}}},
   {"mark":{"type":"rule","color":"#e8202a","strokeWidth":2},"encoding":{"x":{"datum":0}}}]},
  {"title":"Cz (5 Cent)","width":200,"height":93,"transform":[{"filter":{"field":"p","equal":"Cz (5 Cent)"}}],"layer":[
   {"mark":{"type":"line","color":"black","clip":true},"encoding":{"x":{"field":"t","type":"quantitative","scale":{"domain":[-100,1000],"nice":false},"axis":{"values":[0,200,400,600,800,1000],"tickCount":12,"format":"d","title":"Time [ms]","labelOverlap":false}},"y":{"field":"v","type":"quantitative","scale":{"domain":[-1,5],"reverse":true,"nice":false,"zero":false},"axis":{"values":[0,2,4],"format":"d","title":"Amplitude [µV]"}},"strokeDash":{"field":"c","type":"nominal","scale":{"domain":["Non target","targets"],"range":[[1.5,1.5],[1,0]]},"legend":{"title":null,"symbolType":"M-1,0H5"}},"strokeWidth":{"field":"c","type":"nominal","scale":{"domain":["Non target","targets"],"range":[1.8,3.5]},"legend":{"title":null,"symbolType":"M-1,0H5"}}}},
   {"mark":{"type":"rule","color":"#e8202a","strokeWidth":2},"encoding":{"x":{"datum":0}}}]},
  {"title":"Cz (100 Cent)","width":200,"height":93,"transform":[{"filter":{"field":"p","equal":"Cz (100 Cent)"}}],"layer":[
   {"mark":{"type":"line","color":"black","clip":true},"encoding":{"x":{"field":"t","type":"quantitative","scale":{"domain":[-100,1000],"nice":false},"axis":{"values":[0,200,400,600,800,1000],"tickCount":12,"format":"d","title":"Time [ms]","labelOverlap":false}},"y":{"field":"v","type":"quantitative","scale":{"domain":[-1,5],"reverse":true,"nice":false,"zero":false},"axis":{"values":[0,2,4],"format":"d","title":"Amplitude [µV]"}},"strokeDash":{"field":"c","type":"nominal","scale":{"domain":["Non target","targets"],"range":[[1.5,1.5],[1,0]]},"legend":{"title":null,"symbolType":"M-1,0H5"}},"strokeWidth":{"field":"c","type":"nominal","scale":{"domain":["Non target","targets"],"range":[1.8,3.5]},"legend":{"title":null,"symbolType":"M-1,0H5"}}}},
   {"mark":{"type":"rule","color":"#e8202a","strokeWidth":2},"encoding":{"x":{"datum":0}}}]},
  {"title":"Pz (0 Cent)","width":200,"height":93,"transform":[{"filter":{"field":"p","equal":"Pz (0 Cent)"}}],"layer":[
   {"mark":{"type":"line","color":"black","clip":true},"encoding":{"x":{"field":"t","type":"quantitative","scale":{"domain":[-100,1000],"nice":false},"axis":{"values":[0,200,400,600,800,1000],"tickCount":12,"format":"d","title":"Time [ms]","labelOverlap":false}},"y":{"field":"v","type":"quantitative","scale":{"domain":[-1,5],"reverse":true,"nice":false,"zero":false},"axis":{"values":[0,2,4],"format":"d","title":"Amplitude [µV]"}},"strokeDash":{"field":"c","type":"nominal","scale":{"domain":["Non target","targets"],"range":[[1.5,1.5],[1,0]]},"legend":{"title":null,"symbolType":"M-1,0H5"}},"strokeWidth":{"field":"c","type":"nominal","scale":{"domain":["Non target","targets"],"range":[1.8,3.5]},"legend":{"title":null,"symbolType":"M-1,0H5"}}}},
   {"mark":{"type":"rule","color":"#e8202a","strokeWidth":2},"encoding":{"x":{"datum":0}}}]},
  {"title":"Pz (5 Cent)","width":200,"height":93,"transform":[{"filter":{"field":"p","equal":"Pz (5 Cent)"}}],"layer":[
   {"mark":{"type":"line","color":"black","clip":true},"encoding":{"x":{"field":"t","type":"quantitative","scale":{"domain":[-100,1000],"nice":false},"axis":{"values":[0,200,400,600,800,1000],"tickCount":12,"format":"d","title":"Time [ms]","labelOverlap":false}},"y":{"field":"v","type":"quantitative","scale":{"domain":[-1,5],"reverse":true,"nice":false,"zero":false},"axis":{"values":[0,2,4],"format":"d","title":"Amplitude [µV]"}},"strokeDash":{"field":"c","type":"nominal","scale":{"domain":["Non target","targets"],"range":[[1.5,1.5],[1,0]]},"legend":{"title":null,"symbolType":"M-1,0H5"}},"strokeWidth":{"field":"c","type":"nominal","scale":{"domain":["Non target","targets"],"range":[1.8,3.5]},"legend":{"title":null,"symbolType":"M-1,0H5"}}}},
   {"mark":{"type":"rule","color":"#e8202a","strokeWidth":2},"encoding":{"x":{"datum":0}}}]},
  {"title":"Pz (100 Cent)","width":200,"height":93,"transform":[{"filter":{"field":"p","equal":"Pz (100 Cent)"}}],"layer":[
   {"mark":{"type":"line","color":"black","clip":true},"encoding":{"x":{"field":"t","type":"quantitative","scale":{"domain":[-100,1000],"nice":false},"axis":{"values":[0,200,400,600,800,1000],"tickCount":12,"format":"d","title":"Time [ms]","labelOverlap":false}},"y":{"field":"v","type":"quantitative","scale":{"domain":[-1,5],"reverse":true,"nice":false,"zero":false},"axis":{"values":[0,2,4],"format":"d","title":"Amplitude [µV]"}},"strokeDash":{"field":"c","type":"nominal","scale":{"domain":["Non target","targets"],"range":[[1.5,1.5],[1,0]]},"legend":{"title":null,"symbolType":"M-1,0H5"}},"strokeWidth":{"field":"c","type":"nominal","scale":{"domain":["Non target","targets"],"range":[1.8,3.5]},"legend":{"title":null,"symbolType":"M-1,0H5"}}}},
   {"mark":{"type":"rule","color":"#e8202a","strokeWidth":2},"encoding":{"x":{"datum":0}}}]}
],
"config": {
 "font": "Liberation Sans",
 "view": {"stroke": null},
 "axis": {"grid": false, "domainColor": "#262626", "tickColor": "#262626", "labelColor": "#262626", "titleColor": "#262626", "labelFontSize": 12, "titleFontSize": 11.5, "titleFontWeight": "normal", "tickSize": -2, "labelPadding": 6, "labelOverlap": false, "labelFont": "Liberation Sans", "titleFont": "Liberation Sans"},
 "axisX": {"titlePadding": 3, "labelFlush": false, "labelPadding": 7, "labelOverlap": false},
 "axisY": {"titlePadding": 5},
 "title": {"fontSize": 11.5, "fontWeight": "bold", "font": "Liberation Sans", "color": "black", "offset": 5},
 "legend": {"orient": "none", "legendX": 642, "legendY": 498, "strokeColor": "black", "padding": 6, "labelFontSize": 11.5, "labelFont": "Liberation Sans", "labelColor": "black", "symbolStrokeColor": "black", "symbolSize": 121, "rowPadding": 3, "fillColor": "white", "labelOffset": 25}
}
}
